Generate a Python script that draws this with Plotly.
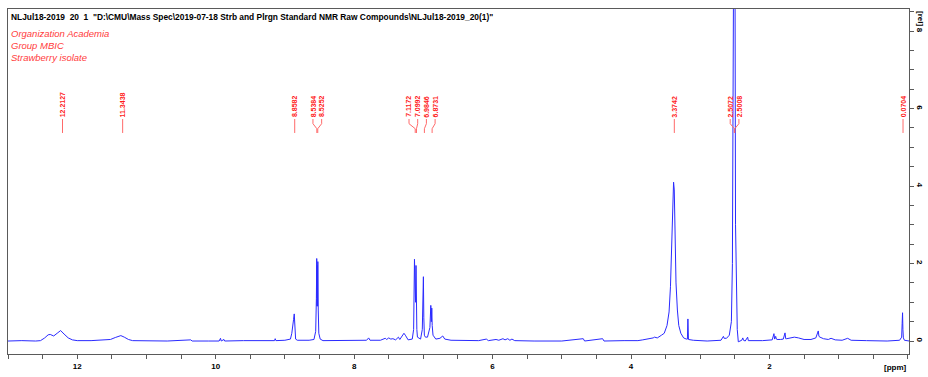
import plotly.graph_objects as go

# ---- spectrum points (ppm, relative intensity) ----
ppm = [13.00, 12.80, 12.60, 12.53, 12.47, 12.42, 12.39, 12.34, 12.29, 12.24, 12.19, 12.13, 12.07, 12.00,
       11.80, 11.60, 11.55, 11.52, 11.45, 11.37, 11.32, 11.26, 11.20, 11.00, 10.70, 10.36, 10.34, 10.10,
       9.95, 9.93, 9.92, 9.88, 9.87, 9.60, 9.30, 9.15, 9.14, 9.13, 9.00, 8.92, 8.90, 8.885, 8.875, 8.865,
       8.858, 8.852, 8.845, 8.82, 8.65, 8.58, 8.555, 8.545, 8.540, 8.536, 8.532, 8.528, 8.524, 8.518,
       8.51, 8.49, 8.45, 8.20, 8.00, 7.82, 7.79, 7.77, 7.62, 7.55, 7.53, 7.50, 7.47, 7.44, 7.40, 7.36,
       7.34, 7.30, 7.28, 7.26, 7.22, 7.16, 7.14, 7.128, 7.122, 7.117, 7.112, 7.106, 7.100, 7.094, 7.085,
       7.04, 7.015, 7.005, 6.999, 6.993, 6.985, 6.97, 6.94, 6.905, 6.892, 6.884, 6.878, 6.872, 6.86,
       6.82, 6.76, 6.72, 6.69, 6.60, 6.40, 6.20, 6.09, 6.06, 5.95, 5.91, 5.85, 5.82, 5.78, 5.75, 5.72,
       5.68, 5.40, 5.00, 4.69, 4.67, 4.41, 4.39, 4.10, 3.90, 3.83, 3.75, 3.68, 3.66, 3.62, 3.56, 3.52,
       3.48, 3.45, 3.43, 3.41, 3.395, 3.385, 3.375, 3.36, 3.35, 3.33, 3.31, 3.28, 3.24, 3.20, 3.185,
       3.178, 3.17, 3.10, 2.90, 2.70, 2.665, 2.655, 2.62, 2.58, 2.55, 2.535, 2.522, 2.513, 2.506, 2.498,
       2.49, 2.478, 2.465, 2.45, 2.40, 2.385, 2.375, 2.35, 2.315, 2.305, 2.28, 2.10, 1.96, 1.935, 1.925,
       1.91, 1.90, 1.89, 1.84, 1.80, 1.775, 1.765, 1.75, 1.70, 1.64, 1.58, 1.50, 1.40, 1.33, 1.295,
       1.285, 1.27, 1.22, 1.15, 1.11, 1.05, 0.95, 0.87, 0.82, 0.60, 0.30, 0.12, 0.09, 0.083, 0.077,
       0.072, 0.065, 0.05, 0.00, -0.02]
intensity = [0.00, 0.01, 0.00, 0.01, 0.08, 0.16, 0.17, 0.13, 0.20, 0.27, 0.18, 0.08, 0.03, 0.01,
             0.01, 0.02, 0.03, 0.04, 0.09, 0.14, 0.10, 0.04, 0.01, 0.00, 0.00, 0.03, 0.00, 0.00,
             0.00, 0.07, 0.00, 0.04, 0.00, 0.01, 0.02, 0.01, 0.06, 0.01, 0.02, 0.05, 0.20, 0.35, 0.55, 0.70,
             0.40, 0.10, 0.05, 0.02, 0.02, 0.04, 0.25, 1.10, 2.13, 0.90, 1.95, 0.90, 2.05, 0.80,
             0.20, 0.05, 0.01, 0.01, 0.01, 0.02, 0.08, 0.02, 0.02, 0.07, 0.04, 0.08, 0.05, 0.06, 0.03, 0.10,
             0.04, 0.15, 0.20, 0.15, 0.03, 0.05, 0.30, 2.11, 1.00, 2.05, 1.00, 1.95, 0.60, 0.30, 0.10,
             0.05, 0.30, 1.00, 1.66, 0.60, 0.15, 0.10, 0.10, 0.35, 0.92, 0.50, 0.85, 0.40, 0.15,
             0.05, 0.07, 0.13, 0.05, 0.02, 0.01, 0.01, 0.05, 0.01, 0.04, 0.02, 0.06, 0.03, 0.06, 0.02, 0.05,
             0.01, 0.00, 0.00, 0.06, 0.00, 0.06, 0.00, 0.01, 0.01, 0.03, 0.05, 0.08, 0.10, 0.08, 0.15, 0.20,
             0.40, 0.75, 1.40, 2.60, 3.70, 4.10, 3.90, 2.60, 1.50, 0.80, 0.40, 0.20, 0.08, 0.05, 0.05,
             0.57, 0.04, 0.02, 0.00, 0.02, 0.12, 0.07, 0.07, 0.15, 0.50, 2.00, 10.0, 12.0, 12.0, 10.0,
             3.00, 1.00, 0.30, -0.02, 0.02, 0.08, 0.02, 0.00, 0.10, 0.01, 0.01, 0.01, 0.03, 0.19, 0.05,
             0.12, 0.05, 0.04, 0.04, 0.05, 0.21, 0.06, 0.06, 0.07, 0.10, 0.08, 0.04, 0.04, 0.08, 0.26,
             0.12, 0.10, 0.06, 0.04, 0.07, 0.03, 0.02, 0.07, 0.02, 0.01, 0.00, 0.02, 0.10, 0.45, 0.73,
             0.30, 0.08, 0.02, 0.00, 0.00]

# ---- axis tick labels ----
x_tick_labels = [12, 10, 8, 6, 4, 2]
y_tick_labels = [0, 2, 4, 6, 8]

# ---- peak picking labels ----
peak_labels = ["12.2127", "11.3438", "8.8582", "8.5384", "8.5252", "7.1172", "7.0992",
               "6.9846", "6.8731", "3.3742", "2.5072", "2.5008", "0.0704"]
peak_ppm = [float(s) for s in peak_labels]

header_title = 'NLJul18-2019  20  1  "D:\\CMU\\Mass Spec\\2019-07-18 Strb and Plrgn Standard NMR Raw Compounds\\NLJul18-2019_20(1)"'
header_lines = ["Organization Academia", "Group MBIC", "Strawberry isolate"]

X_RANGE = [13.0, -0.016]
Y_RANGE = [-0.335, 8.57]
PX_PER_PPM = 69.22
LABEL_GAP = 8.7 / PX_PER_PPM  # minimum label spacing in ppm

# spread clustered labels apart (simple cluster centring)
order = sorted(range(len(peak_ppm)), key=lambda i: -peak_ppm[i])
clusters = []
for i in order:
    if clusters and (clusters[-1][-1][1] - peak_ppm[i]) < LABEL_GAP:
        clusters[-1].append((i, peak_ppm[i]))
    else:
        clusters.append([(i, peak_ppm[i])])
label_x = [0.0] * len(peak_ppm)
for c in clusters:
    centre = sum(p for _, p in c) / len(c)
    n = len(c)
    for k, (i, _) in enumerate(c):
        label_x[i] = centre + ((n - 1) / 2 - k) * LABEL_GAP

FONT = "Arial, Liberation Sans, sans-serif"
RED = "#ff1a1a"
BLUE = "#2a2aff"
AX = "#5a5a5a"

fig = go.Figure()
fig.add_trace(go.Scatter(x=ppm, y=intensity, mode="lines",
                         line=dict(color=BLUE, width=1), hoverinfo="skip"))

# connector lines from labels to peaks
cx, cy = [], []
Y1, Y2, Y3, Y4 = 5.73, 5.61, 5.48, 5.37
for xt, xp in zip(label_x, peak_ppm):
    cx += [xt, xt, xp, xp, None]
    cy += [Y1, Y2, Y3, Y4, None]
fig.add_trace(go.Scatter(x=cx, y=cy, mode="lines", line=dict(color="#ff6a6a", width=1),
                         hoverinfo="skip"))

annotations = []
for txt, xt in zip(peak_labels, label_x):
    annotations.append(dict(x=xt, y=5.80, xref="x", yref="y", text=txt, showarrow=False,
                            textangle=-90, xanchor="center", yanchor="bottom", yshift=-3,
                            font=dict(family=FONT, size=7, color=RED, weight="bold")))

annotations.append(dict(x=0, y=0.978, xref="paper", yref="paper", text=header_title,
                        showarrow=False, xanchor="left", yanchor="middle", xshift=1,
                        font=dict(family=FONT, size=8.4, color="black", weight="bold")))
for k, line in enumerate(header_lines):
    annotations.append(dict(x=0, y=[0.930, 0.895, 0.860][k], xref="paper", yref="paper",
                            text=line, showarrow=False, xanchor="left", yanchor="middle",
                            xshift=1,
                            font=dict(family=FONT, size=9.5, color="#ff3b3b", style="italic")))
annotations.append(dict(x=1, y=0, xref="paper", yref="paper", text="[ppm]", showarrow=False,
                        xanchor="right", yanchor="top", yshift=-7,
                        font=dict(family=FONT, size=8, color="black", weight="bold")))
annotations.append(dict(x=1, y=1, xref="paper", yref="paper", text="[rel]", showarrow=False,
                        xanchor="left", yanchor="top", xshift=5, textangle=90,
                        font=dict(family=FONT, size=8, color="black", weight="bold")))

fig.update_layout(
    width=928, height=377,
    margin=dict(l=8, r=19, t=9, b=23, autoexpand=False),
    plot_bgcolor="white", paper_bgcolor="white",
    showlegend=False,
    annotations=annotations,
    xaxis=dict(range=X_RANGE, tickmode="array", tickvals=x_tick_labels,
               ticktext=[str(v) for v in x_tick_labels],
               ticks="outside", ticklen=4, tickwidth=1,
               tickcolor=AX, showline=True, linecolor=AX, linewidth=1, mirror=True,
               showgrid=False, zeroline=False, automargin=False,
               tickfont=dict(family=FONT, size=8, color="black", weight="bold"),
               minor=dict(tickmode="linear", dtick=0.5, tick0=0, ticks="outside", ticklen=4,
                          tickcolor=AX)),
    yaxis=dict(range=Y_RANGE, side="right", tickmode="array", tickvals=y_tick_labels,
               ticktext=[str(v) for v in y_tick_labels],
               ticks="outside", ticklen=4,
               tickwidth=1, tickcolor=AX, showline=True, linecolor=AX, linewidth=1,
               mirror=True, showgrid=False, zeroline=False, tickangle=90, automargin=False,
               tickfont=dict(family=FONT, size=8, color="black", weight="bold"),
               minor=dict(tickmode="linear", dtick=0.5, tick0=0, ticks="outside", ticklen=4,
                          tickcolor=AX)),
)

fig.write_html("out.html", config={"displayModeBar": False},
               post_script="document.body.style.margin='0';document.body.style.overflow='hidden';")
